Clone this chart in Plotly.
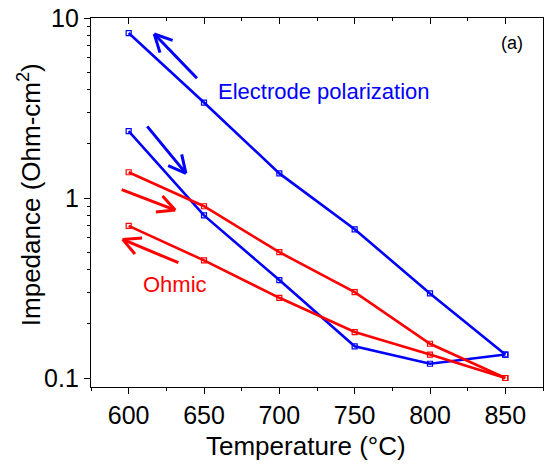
import math
import plotly.graph_objects as go

# Temperatures (°C) for each sweep
temp_up = [600, 650, 700, 750, 800, 850]
temp_down = [850, 800, 750, 700, 650, 600]

# Electrode polarization impedance (Ohm-cm^2)
pol_heating = [2.35, 0.80, 0.35, 0.150, 0.120, 0.135]
pol_cooling = [0.135, 0.295, 0.67, 1.37, 3.39, 8.25]

# Ohmic impedance (Ohm-cm^2)
ohm_heating = [1.39, 0.90, 0.50, 0.30, 0.155, 0.10]
ohm_cooling = [0.10, 0.135, 0.18, 0.279, 0.45, 0.70]

BLUE = "#0000FF"
RED = "#FF0000"
FONT = "Liberation Sans, Arial, sans-serif"

W, H = 544, 466
ML, MR, MT, MB = 91, 1, 18, 79
X_RANGE = [575, 875]
Y_RANGE = [-1.05, 1.0]  # log10 units
PX_X = (W - ML - MR) / (X_RANGE[1] - X_RANGE[0])
PX_Y = (H - MT - MB) / (Y_RANGE[1] - Y_RANGE[0])

fig = go.Figure()


def add_series(x, y, color):
    fig.add_trace(go.Scatter(
        x=x, y=y, mode="lines+markers",
        line=dict(color=color, width=2.6),
        marker=dict(symbol="square-open", size=5, color=color,
                    line=dict(width=1.2, color=color)),
        showlegend=False,
    ))


add_series(temp_up, pol_heating, BLUE)
add_series(temp_down, pol_cooling, BLUE)
add_series(temp_up, ohm_heating, RED)
add_series(temp_down, ohm_cooling, RED)

# empty trace so the top (mirrored-tick) axis is drawn
fig.add_trace(go.Scatter(x=[None], y=[None], xaxis="x2", yaxis="y",
                         showlegend=False, hoverinfo="skip"))

# direction arrows: (tail_x, tail_log10y, head_x, head_log10y, color)
arrows = [
    (646.3, 0.657, 617.0, 0.911, BLUE),
    (611.5, 0.406, 638.0, 0.137, BLUE),
    (594.4, 0.050, 630.9, -0.067, RED),
    (634.0, -0.363, 596.0, -0.230, RED),
]
WING_LEN = 21
WING_ANG = math.radians(27)


def line_to(hx, hy, dx, dy, color):
    fig.add_annotation(
        x=hx, y=hy, xref="x", yref="y", ax=dx, ay=dy,
        text="", showarrow=True, arrowhead=0, arrowwidth=3,
        arrowcolor=color, standoff=0, startstandoff=0,
    )


for tx, ty, hx, hy, c in arrows:
    # tail offset from the head, in screen pixels (y grows downward)
    dx = (tx - hx) * PX_X
    dy = -(ty - hy) * PX_Y
    line_to(hx, hy, dx, dy, c)
    ang = math.atan2(dy, dx)
    for s in (1, -1):
        a = ang + s * WING_ANG
        line_to(hx, hy, WING_LEN * math.cos(a), WING_LEN * math.sin(a), c)

fig.add_annotation(x=658.1, y=0.592, xref="x", yref="y",
                   text="Electrode polarization", showarrow=False,
                   xanchor="left", yanchor="middle",
                   font=dict(family=FONT, size=22, color=BLUE))
fig.add_annotation(x=608.2, y=-0.482, xref="x", yref="y",
                   text="Ohmic", showarrow=False,
                   xanchor="left", yanchor="middle",
                   font=dict(family=FONT, size=22, color=RED))
fig.add_annotation(x=0.932, y=0.932, xref="paper", yref="paper",
                   text="(a)", showarrow=False,
                   xanchor="center", yanchor="middle",
                   font=dict(family=FONT, size=18, color="black"))

# axis titles
fig.add_annotation(x=0.476, y=-0.160, xref="paper", yref="paper",
                   text="Temperature (°C)", showarrow=False,
                   xanchor="center", yanchor="middle",
                   font=dict(family=FONT, size=26, color="black"))
fig.add_annotation(x=-0.137, y=0.52, xref="paper", yref="paper",
                   text="Impedance (Ohm-cm<sup>2</sup>)", showarrow=False,
                   textangle=-90, xanchor="center", yanchor="middle",
                   font=dict(family=FONT, size=26, color="black"))

axis_common = dict(showgrid=False, zeroline=False, linecolor="black",
                   linewidth=1.3, tickcolor="black", tickwidth=1.3)

fig.update_layout(
    width=W, height=H,
    margin=dict(l=ML, r=MR, t=MT, b=MB),
    paper_bgcolor="white", plot_bgcolor="white",
    font=dict(family=FONT, color="black"),
    xaxis=dict(range=X_RANGE, tickvals=[600, 650, 700, 750, 800, 850],
               ticks="outside", ticklen=6, showline=True, mirror=True,
               tickfont=dict(size=25),
               minor=dict(dtick=25, tick0=575, ticks="outside", ticklen=3,
                          tickcolor="black", tickwidth=1.3),
               **axis_common),
    xaxis2=dict(range=X_RANGE, overlaying="x", anchor="y", side="top",
                tickvals=[600, 650, 700, 750, 800, 850],
                ticks="inside", ticklen=6, showticklabels=False,
                showline=False,
                minor=dict(dtick=25, tick0=575, ticks="inside", ticklen=3,
                           tickcolor="black", tickwidth=1.3),
                showgrid=False, zeroline=False, tickcolor="black",
                tickwidth=1.3),
    yaxis=dict(type="log", range=Y_RANGE,
               tickvals=[0.1, 1, 10], ticktext=["0.1", "1", "10"],
               ticks="outside", ticklen=6, showline=True, mirror=True,
               tickfont=dict(size=25),
               minor=dict(tickvals=[v * d for d in (0.1, 1)
                                    for v in range(2, 10)],
                          ticks="outside", ticklen=3,
                          tickcolor="black", tickwidth=1.3),
               **axis_common),
)

fig.write_html("out.html")
